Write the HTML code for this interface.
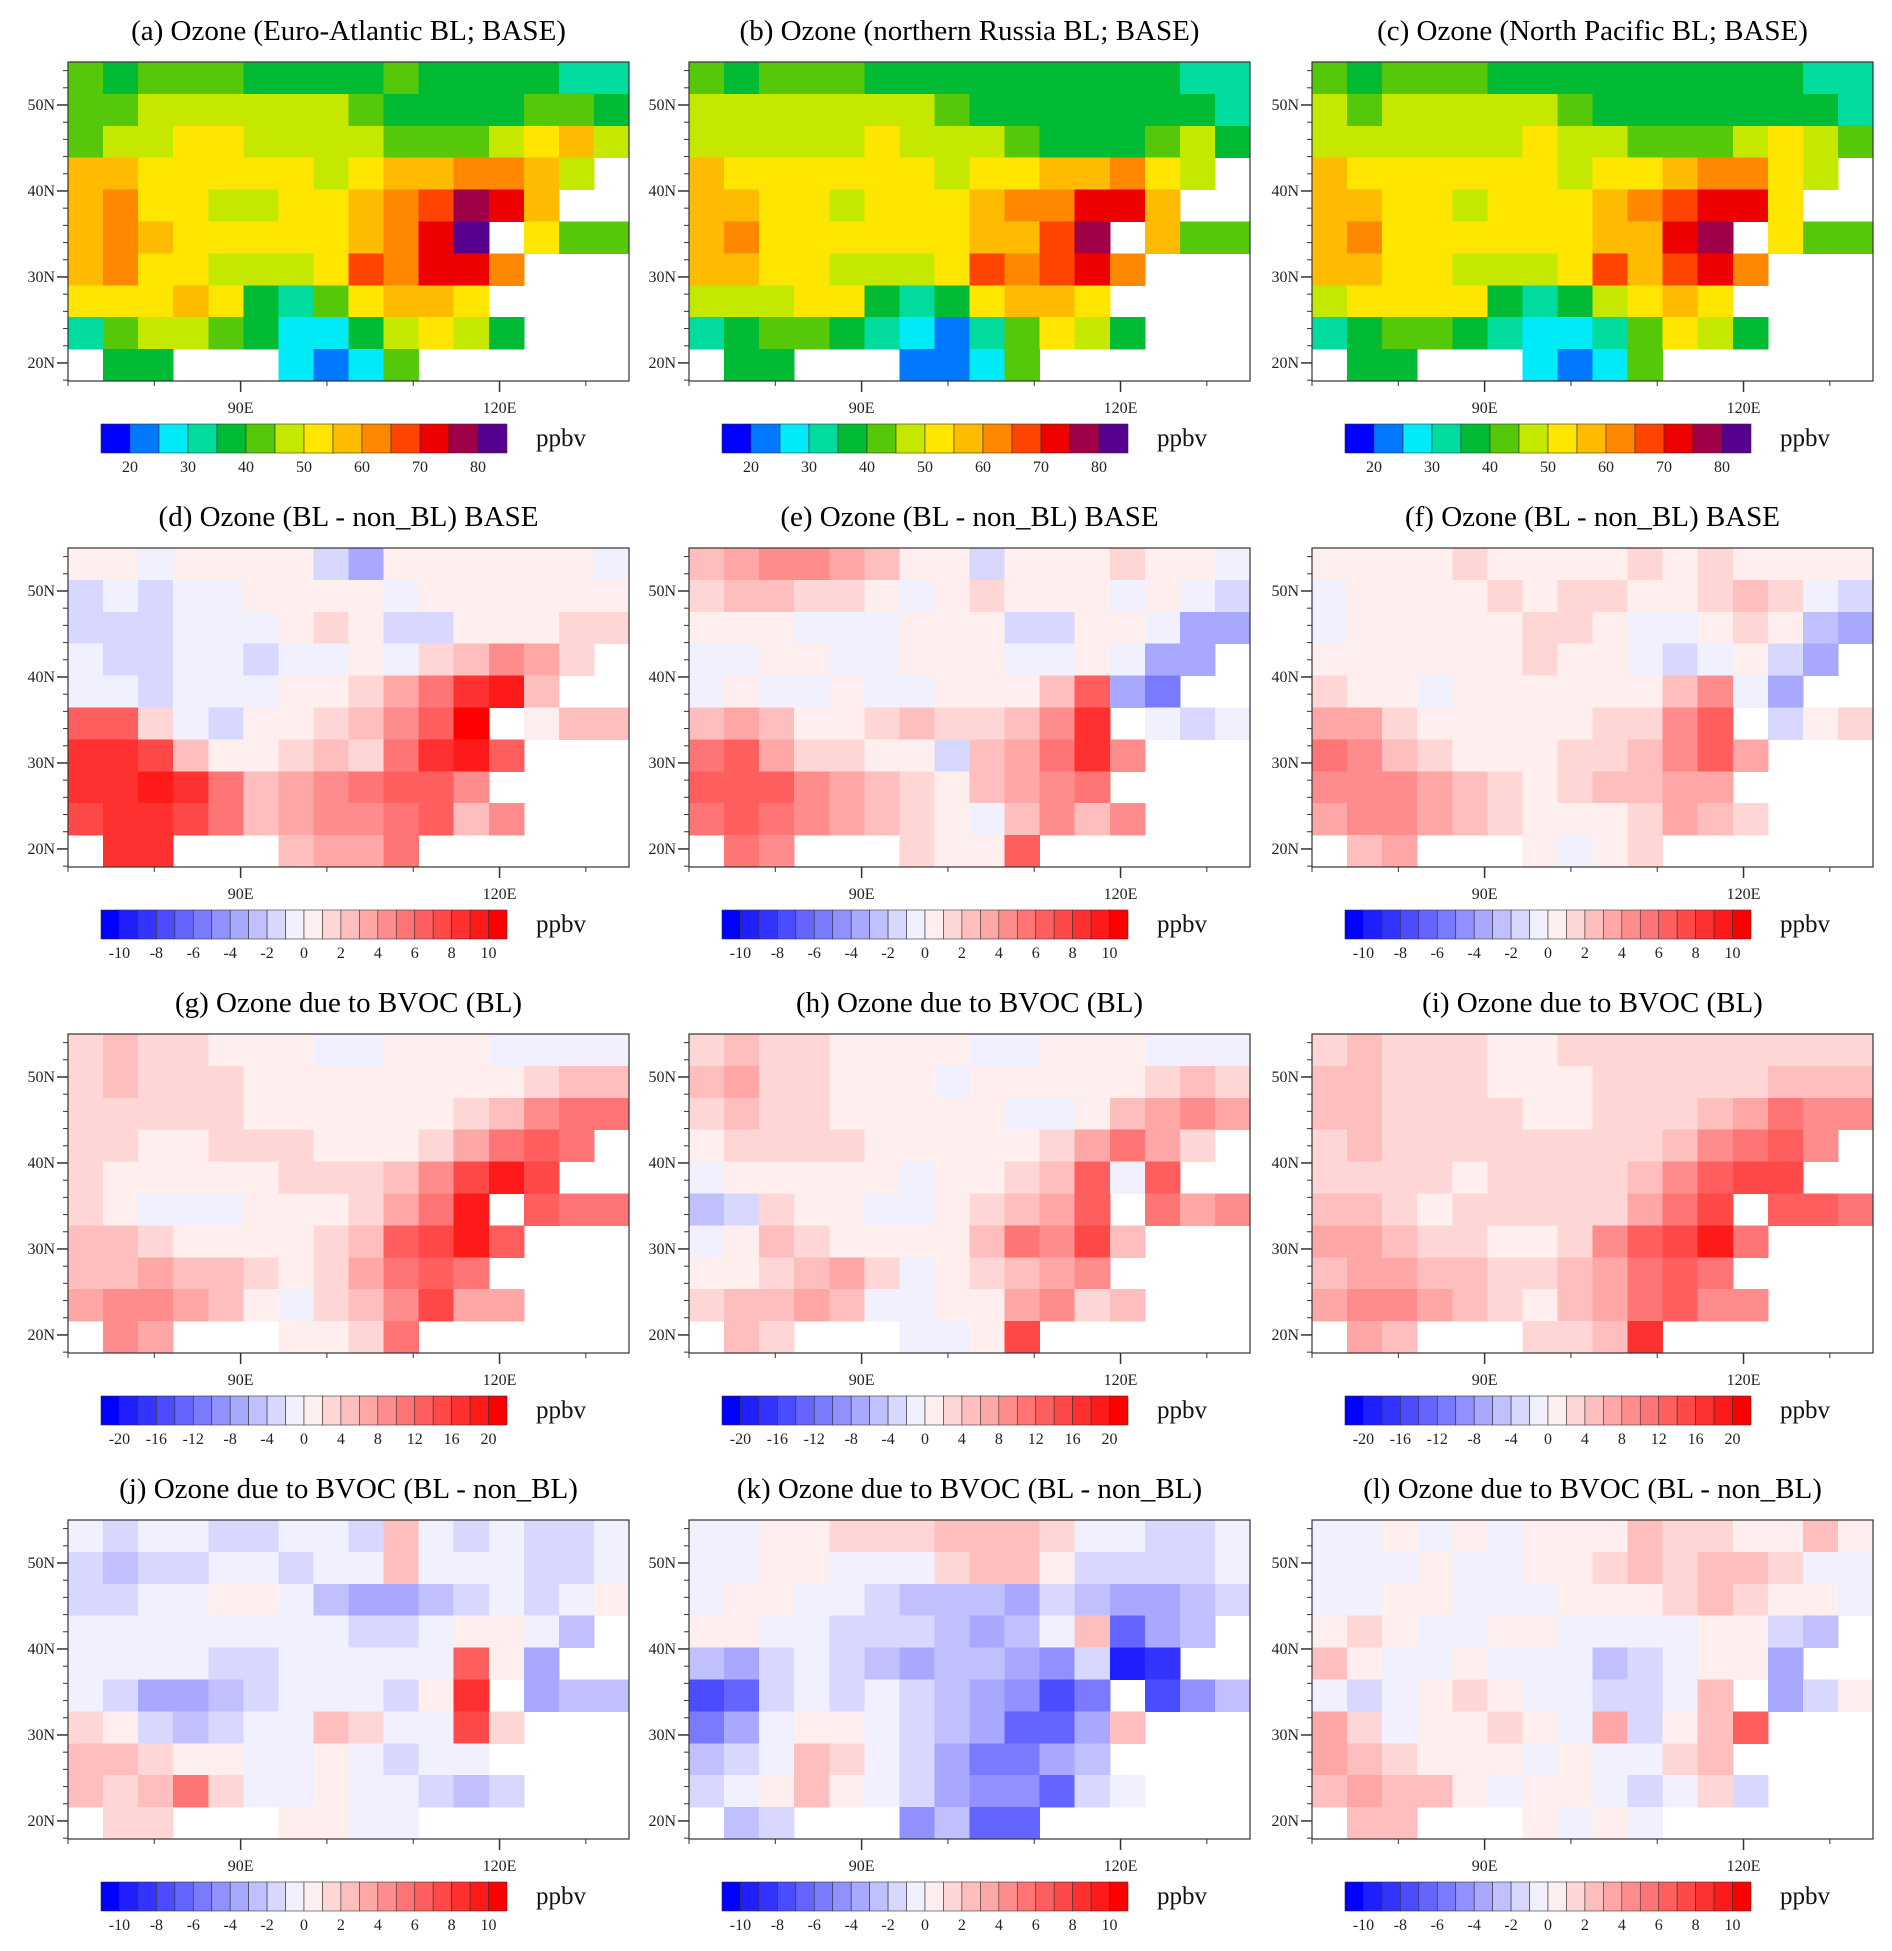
<!DOCTYPE html>
<html><head><meta charset="utf-8">
<style>
html,body{margin:0;padding:0;background:#fff;}
svg{display:block;font-family:"Liberation Serif",serif;}
</style></head>
<body>
<svg id="fig" xmlns="http://www.w3.org/2000/svg" width="1892" height="1951" viewBox="0 0 1892 1951"></svg>
<script>
// ---- chart data (level codes per grid cell, rows north->south, cols west->east; '.' = ocean/no data) ----
const panelTitles = [
 "(a) Ozone (Euro-Atlantic BL; BASE)","(b) Ozone (northern Russia BL; BASE)","(c) Ozone (North Pacific BL; BASE)",
 "(d) Ozone (BL - non_BL) BASE","(e) Ozone (BL - non_BL) BASE","(f) Ozone (BL - non_BL) BASE",
 "(g) Ozone due to BVOC (BL)","(h) Ozone due to BVOC (BL)","(i) Ozone due to BVOC (BL)",
 "(j) Ozone due to BVOC (BL - non_BL)","(k) Ozone due to BVOC (BL - non_BL)","(l) Ozone due to BVOC (BL - non_BL)"];
const latTicks = [50,40,30,20];
const lonTicks = [70,80,90,100,110,120,130];
const lonLabels = [90,120];
const ozoneTicks = [20,30,40,50,60,70,80];
const diffTicks10 = [-10,-8,-6,-4,-2,0,2,4,6,8,10];
const diffTicks20 = [-20,-16,-12,-8,-4,0,4,8,12,16,20];
const ozoneA = ["FEFFFEEEEFEEEEDD","FFGGGGGGFEEEEFFE","FGGHHGGGGFFFGHIG","IIHHHHHGHIIJJIG.","IJHHGGHHIJKMLI..","IJIHHHHHIJLN.HFF","IJHHGGGHKJLLJ...","HHHIHEDFHIIH....","DFGGFECCEGHGE...",".EE...CBCF......"];
const ozoneB = ["FEFFFEEEEEEEEEDD","GGGGGGGFEEEEEEED","GGGGGHGGGFEEEFGE","IHHHHHHGHHIIJHG.","IIHHGHHHIJJLLI..","IJHHHHHHIIKM.IFF","IIHHGGGHKJKLJ...","GGGHHEDEHIIH....","DEFFEDCBDFHGE...",".EE...BBCF......"];
const ozoneC = ["FEFFFEEEEEEEEEDD","GFGGGGGFEEEEEEED","GGGGGGHGGFFFGHGF","IHHHHHHGHHIJJHG.","IIHHGHHHIJKLLH..","IJHHHHHHIILM.HFF","IIHHGGGHKIKLJ...","GHHHHEDEGHIH....","DEFFEDCCDFHGE...",".EE...CBCF......"];
const diffD = ["LLKLLLLJHLLLLLLK","JKJKKLLLLKLLLLLL","JJJKKKLMLJJLLLMM","KJJKKJKKLKMNPOM.","KKJKKKLLMOQTUN..","RRMKJLLMNPRV.LNN","TTSNLLMNMQTUR...","TTUTQNOPQRRP....","STTSQNOPPQRNP...",".TT...NOOQ......"];
const diffE = ["NOPPONLLJLLLMLLK","MNNMMLKLMLLLKLKJ","LLLKKKLLLJJLLKHH","KKLLKKLLLKKLKHH.","KLKKLKKLLLNRHF..","NONLLMNMMNPT.KJK","QROMMLLJNOQTP...","RRRPONMLNOPQ....","QRQPONMLKNPNP...",".QP...MLLR......"];
const diffF = ["LLLLMLLLLMLMLLLL","KLLLLMLMMLLMNMKJ","KLLLLLMMLKKLMLIH","LLLLLLMLLKJKLJH.","MLLKLLLLLLNPKH..","OOMLLLLLMMPR.JLM","QPNMLLLMMNPRO...","PPPONMLMNNOO....","OPPONMLLLMONM...",".NO...LKLM......"];
const bvocG = ["MNMMLLLKKLLLKKKK","MNMMMLLLLLLLLMNN","MMMMMLLLLLLMNPQQ","MMLLMMMLLLMOQRQ.","MLLLLLMMMNPSUS..","MLKKKLLLMOQU.RQQ","NNMLLLLMNRSUR...","NNONNMLMOQRQ....","OPPONLKMNPSOO...",".PO...LLMQ......"];
const bvocH = ["MNMMLLLLKKLLLKKK","NOMMLLLKLLLLLMNM","MNMMLLLLLKKLNOPO","LMMMMLLLLLMOQOM.","KLLLLLKLLMNRKR..","IJMLLKKLMNOR.QOP","KLNMLLLLNQPSN...","LLMNOMKLMNOP....","MNNONKKLLOPMN...",".NM...KKLS......"];
const bvocI = ["MNMMMLLMMMMMMMMM","NNMMMLLLMMMMMNNN","NNMMMMLLMMMNOQPP","MNMMMMMMMMNPQRP.","MMMMLMMMMNPRSS..","NNMLMMMMMOQS.RRQ","OONMMLLMPRSUQ...","NOONNMMNOQRQ....","OPPONMLNOQRPP...",".ON...MMNT......"];
const bvocDiffJ = ["KJKKJJKKJNKJKJJK","JIJJKKJKKNKKKJJK","JJKKLLKIHHIJKJKL","KKKKKKKKJJKLLKI.","KKKKJJKKKKKRLH..","KJHHIJKKKJLT.HII","MLJIJKKNMKKSM...","NNMLLKKLKJKK....","NMNQMKKLKKJIJ...",".MM...LLKK......"];
const bvocDiffK = ["KKLLMMMNNNMKKJJK","KKLLKKKMNNLJJJJK","KLLKKJIIIHJIHHIJ","LLKKJJJIHIKNEHI.","IHJKJIHIIHGJBC..","DEJKJKJIHGDF.DGI","FHKLLKJIHEEHN...","IJKNMKJHFFHI....","JKLNLKJHGGEJK...",".IJ...GIEE......"];
const bvocDiffL = ["KKLKLKLLLNMMLLNL","KKKLKKLLMNMNNMKK","KKLLKKKLLLMNMLLK","LMLKKLLKKKKLLJI.","NLKKLKKKIJKLLH..","KJKLMLKKJJKN.HJL","OMKLLMLKOJLNR...","ONMLLLKLKKMN....","NONNLKLLKJKMJ...",".NN...LKLK......"];

const panelData = [ozoneA,ozoneB,ozoneC,diffD,diffE,diffF,bvocG,bvocH,bvocI,bvocDiffJ,bvocDiffK,bvocDiffL];

const ozoneColors = ["#0000ff","#0078ff","#00eaf8","#00dc9e","#00bb33","#55c80a","#c4e800","#ffe600","#ffbb00","#ff8800","#ff4400","#ee0000","#a00048","#560090"];
const diffColors = ["#0000ff","#2020ff","#3434ff","#4c4cff","#6464ff","#7a7aff","#9090ff","#a8a8ff","#c0c0ff","#d8d8ff","#f0f0ff","#ffeeee","#ffd6d6","#ffbebe","#ffa6a6","#ff8c8c","#ff7575","#ff5e5e","#ff4848","#ff3030","#ff1a1a","#ff0000"];

const NS="http://www.w3.org/2000/svg";
const svg=document.getElementById('fig');
function mk(tag,attrs,parent){const e=document.createElementNS(NS,tag);for(const k in attrs)e.setAttribute(k,attrs[k]);(parent||svg).appendChild(e);return e;}

const colX=[68,689,1312], rowY=[62,548,1034,1520];
const MW=561, MH=319, LON0=70, LON1=135, LAT0=55, LAT1=17.9;
const NCOL=16, NROW=10;

function decode(ch, kind){
  const idx = ch.charCodeAt(0)-65;
  if(kind==='ozone') return 17.5+5*idx;
  const step = kind==='bvoc' ? 2 : 1;
  return (idx-10.5)*step;
}
function colorFor(v, kind){
  if(kind==='ozone'){let b=Math.floor((v-20)/5)+1;b=Math.max(0,Math.min(13,b));return ozoneColors[b];}
  const step = kind==='bvoc'?2:1;
  let b=Math.floor(v/step)+11;b=Math.max(0,Math.min(21,b));return diffColors[b];
}

for(let p=0;p<12;p++){
  const r=Math.floor(p/3), c=p%3;
  const ox=colX[c], oy=rowY[r];
  const kind = r===0?'ozone':(r===2?'bvoc':'diff');
  const xOf = lon => ox+(lon-LON0)/(LON1-LON0)*MW;
  const yOf = lat => oy+(LAT0-lat)/(LAT0-LAT1)*MH;
  const g=mk('g',{});
  
  

  const t=mk('text',{x:ox+MW/2,y:oy-22,'text-anchor':'middle','font-size':'29',fill:'#000'},g);
  t.textContent=panelTitles[p];
  
  

  const cells=mk('g',{'shape-rendering':'crispEdges'},g);
  
  
  const data=panelData[p];
  const dLon=(LON1-LON0)/NCOL, dLat=(LAT0-LAT1)/NROW;
  for(let j=0;j<NROW;j++){
    for(let i=0;i<NCOL;i++){
      const ch=data[j][i];
      if(ch==='.'||ch===undefined) continue;
      const v=decode(ch,kind);
      const x0=xOf(LON0+i*dLon), x1=xOf(LON0+(i+1)*dLon);
      const y0=yOf(LAT0-j*dLat), y1=yOf(LAT0-(j+1)*dLat);
      const rc=mk('rect',{x:x0,y:y0,width:x1-x0+0.5,height:y1-y0+0.5,fill:colorFor(v,kind)},cells);
      
      
    }
  }
  const fr=mk('rect',{x:ox,y:oy,width:MW,height:MH,fill:'none',stroke:'#333','stroke-width':1.2},g);
  
  

  for(let lat=18;lat<=54;lat+=2){
    const y=yOf(lat), major=latTicks.includes(lat);
    mk('line',{x1:ox-(major?11:5),x2:ox,y1:y,y2:y,stroke:'#333','stroke-width':major?1.5:1},g);
  }
  latTicks.forEach(lat=>{
    const tx=mk('text',{x:ox-13,y:yOf(lat)+5,'text-anchor':'end','font-size':'16',fill:'#222'},g);
    tx.textContent=lat+'N';
    
    
  });
  lonTicks.forEach(lon=>{
    const x=xOf(lon), major=lonLabels.includes(lon);
    mk('line',{x1:x,x2:x,y1:oy+MH,y2:oy+MH+(major?11:5),stroke:'#333','stroke-width':major?1.5:1},g);
  });
  lonLabels.forEach(lon=>{
    const tx=mk('text',{x:xOf(lon),y:oy+MH+32,'text-anchor':'middle','font-size':'16',fill:'#222'},g);
    tx.textContent=lon+'E';
    
    
  });

  const cb=mk('g',{},g);
  
  
  const cbx=ox+33, cby=oy+362, cbw=406, cbh=29;
  const cols = kind==='ozone'?ozoneColors:diffColors;
  const bw=cbw/cols.length;
  cols.forEach((col,k)=>{
    const b=mk('rect',{x:cbx+k*bw,y:cby,width:bw,height:cbh,fill:col,stroke:'#333','stroke-width':0.6},cb);
    
    
  });
  let ticks, firstVal, stepPerBox;
  if(kind==='ozone'){ticks=ozoneTicks;firstVal=20;stepPerBox=5;}
  else if(kind==='bvoc'){ticks=diffTicks20;firstVal=-20;stepPerBox=2;}
  else {ticks=diffTicks10;firstVal=-10;stepPerBox=1;}
  ticks.forEach(v=>{
    const bnd=1+(v-firstVal)/stepPerBox;
    const tx=mk('text',{x:cbx+bnd*bw,y:cby+cbh+19,'text-anchor':'middle','font-size':'16',fill:'#222'},cb);
    tx.textContent=String(v);
    
    
  });
  const u=mk('text',{x:ox+468,y:cby+22,'font-size':'25',fill:'#111'},cb);
  u.textContent='ppbv';
  
  
}
</script>
</body></html>
